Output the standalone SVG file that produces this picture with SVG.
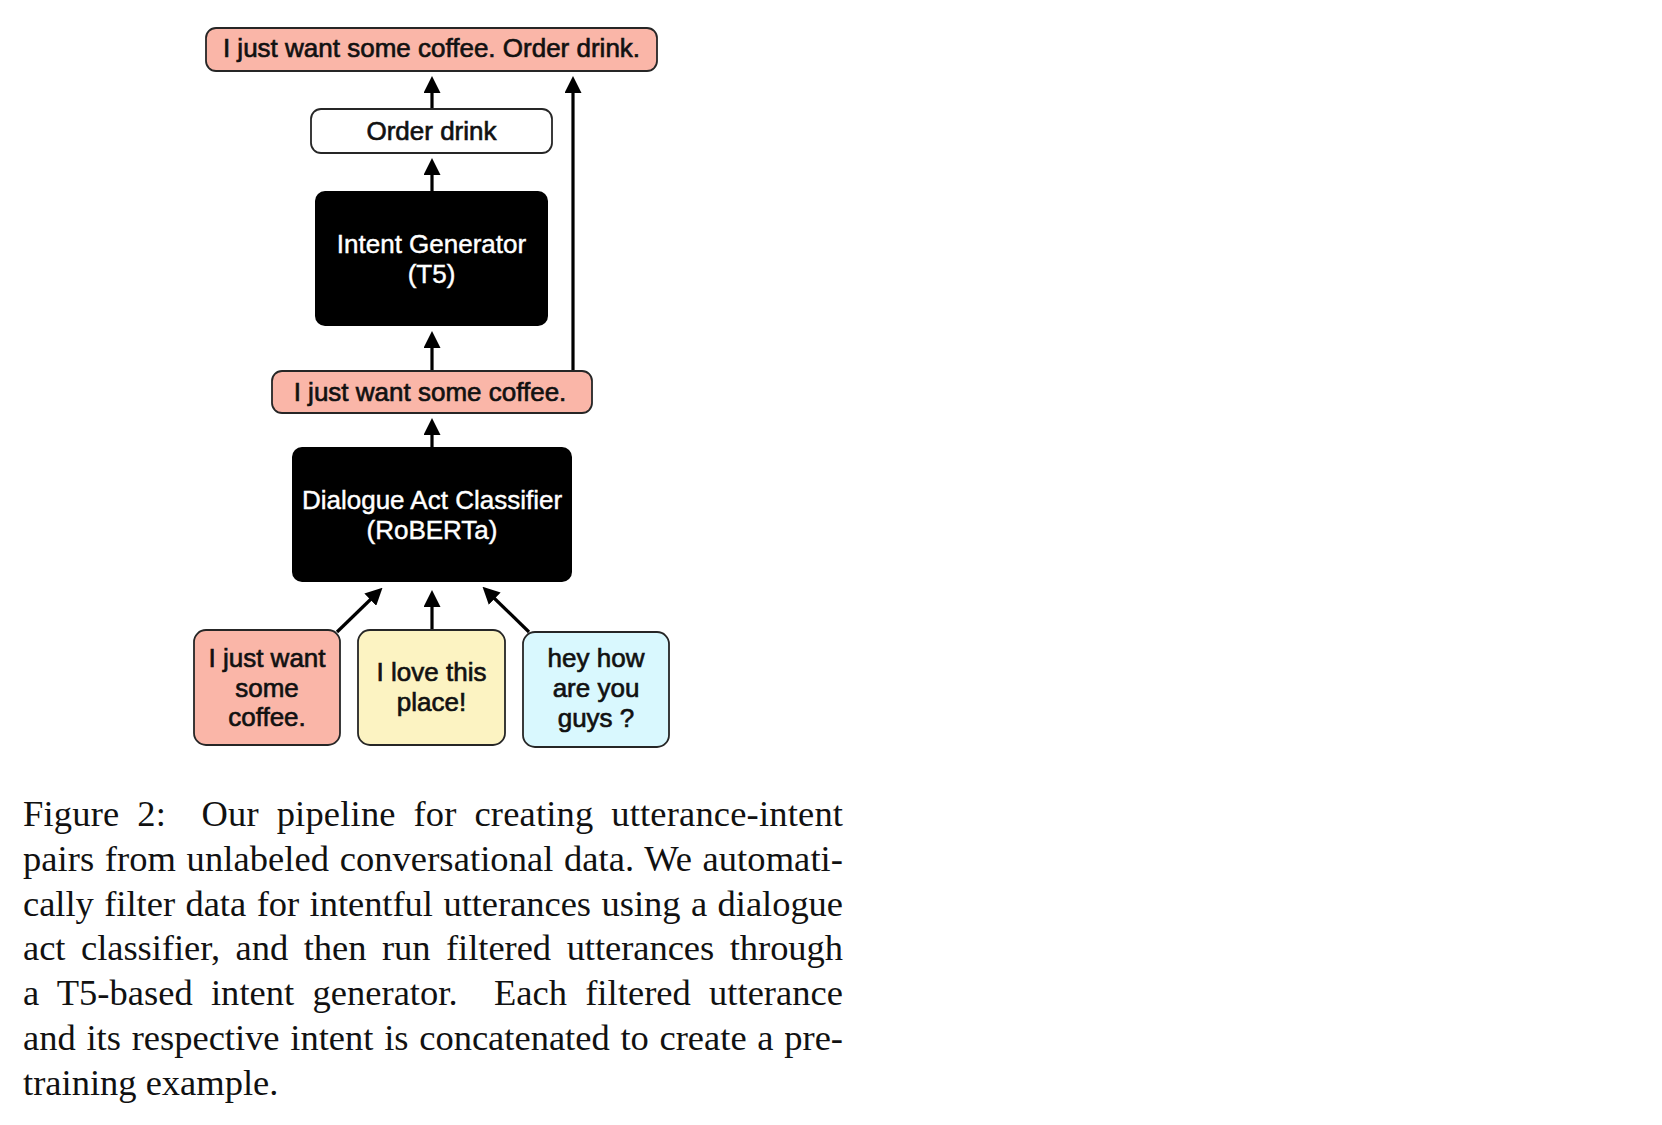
<svg xmlns="http://www.w3.org/2000/svg" width="1662" height="1125" viewBox="0 0 1662 1125">
<style>
.box{stroke:#262626;stroke-width:1.8}
.pink{fill:#FAB6A8}
.yellow{fill:#FCF3C2}
.cyan{fill:#D9F8FE}
.white{fill:#ffffff}
.dark{fill:#000000;stroke:none}
.t{font-family:"Liberation Sans",Arial,Helvetica,sans-serif;font-size:26px;fill:#111;text-anchor:middle;stroke:#111;stroke-width:0.65}
.tw{font-family:"Liberation Sans",Arial,Helvetica,sans-serif;font-size:26px;fill:#fff;text-anchor:middle;stroke:#fff;stroke-width:0.45}
.conn{stroke:#000;stroke-width:3.2;fill:none}
.cap{font-family:"Liberation Serif","Times New Roman",Times,serif;font-size:36.5px;fill:#111}
</style>
<defs>
<marker id="ah" viewBox="0 0 17 17" refX="1" refY="8.5" markerWidth="17" markerHeight="17" markerUnits="userSpaceOnUse" orient="auto">
<path d="M0,0 L17,8.5 L0,17 z" fill="#000"/>
</marker>
</defs>

<g id="connectors">
<line class="conn" x1="432" y1="109" x2="432" y2="92" marker-end="url(#ah)"/>
<line class="conn" x1="573" y1="371" x2="573" y2="92" marker-end="url(#ah)"/>
<line class="conn" x1="432" y1="191" x2="432" y2="174" marker-end="url(#ah)"/>
<line class="conn" x1="432" y1="371" x2="432" y2="347" marker-end="url(#ah)"/>
<line class="conn" x1="432" y1="447" x2="432" y2="434" marker-end="url(#ah)"/>
<line class="conn" x1="337" y1="632" x2="371" y2="599" marker-end="url(#ah)"/>
<line class="conn" x1="432" y1="630" x2="432" y2="606" marker-end="url(#ah)"/>
<line class="conn" x1="529" y1="632" x2="494" y2="598" marker-end="url(#ah)"/>
</g>

<g id="node-output">
<rect class="box pink" x="206" y="28" width="451" height="43" rx="10"/>
<text class="t" x="431.5" y="57">I just want some coffee. Order drink.</text>
</g>

<g id="node-intent">
<rect class="box white" x="311" y="109" width="241" height="44" rx="10"/>
<text class="t" x="431.5" y="140">Order drink</text>
</g>

<g id="node-generator">
<rect class="dark" x="315" y="191" width="233" height="135" rx="10"/>
<text class="tw" x="431.5" y="253">Intent Generator</text>
<text class="tw" x="431.5" y="283">(T5)</text>
</g>

<g id="node-filtered">
<rect class="box pink" x="272" y="371" width="320" height="42" rx="10"/>
<text class="t" x="430" y="401">I just want some coffee.</text>
</g>

<g id="node-classifier">
<rect class="dark" x="292" y="447" width="280" height="135" rx="10"/>
<text class="tw" x="432" y="509">Dialogue Act Classifier</text>
<text class="tw" x="432" y="539">(RoBERTa)</text>
</g>

<g id="node-utt1">
<rect class="box pink" x="194" y="630" width="146" height="115" rx="12"/>
<text class="t" x="267" y="667">I just want</text>
<text class="t" x="267" y="697">some</text>
<text class="t" x="267" y="726">coffee.</text>
</g>

<g id="node-utt2">
<rect class="box yellow" x="358" y="630" width="147" height="115" rx="12"/>
<text class="t" x="431.5" y="681">I love this</text>
<text class="t" x="431.5" y="711">place!</text>
</g>

<g id="node-utt3">
<rect class="box cyan" x="523" y="632" width="146" height="115" rx="12"/>
<text class="t" x="596" y="667">hey how</text>
<text class="t" x="596" y="697">are you</text>
<text class="t" x="596" y="727">guys ?</text>
</g>

<g id="caption">
<text class="cap" x="23" y="826" word-spacing="8.5" textLength="820" lengthAdjust="spacing">Figure 2:&#160; Our pipeline for creating utterance-intent</text>
<text class="cap" x="23" y="871" word-spacing="1.3" textLength="820" lengthAdjust="spacing">pairs from unlabeled conversational data. We automati-</text>
<text class="cap" x="23" y="916" word-spacing="1.4" textLength="820" lengthAdjust="spacing">cally filter data for intentful utterances using a dialogue</text>
<text class="cap" x="23" y="960" word-spacing="6.5" textLength="820" lengthAdjust="spacing">act classifier, and then run filtered utterances through</text>
<text class="cap" x="23" y="1005" word-spacing="9" textLength="820" lengthAdjust="spacing">a T5-based intent generator.&#160; Each filtered utterance</text>
<text class="cap" x="23" y="1050" word-spacing="1.6" textLength="820" lengthAdjust="spacing">and its respective intent is concatenated to create a pre-</text>
<text class="cap" x="23" y="1095">training example.</text>
</g>
</svg>
